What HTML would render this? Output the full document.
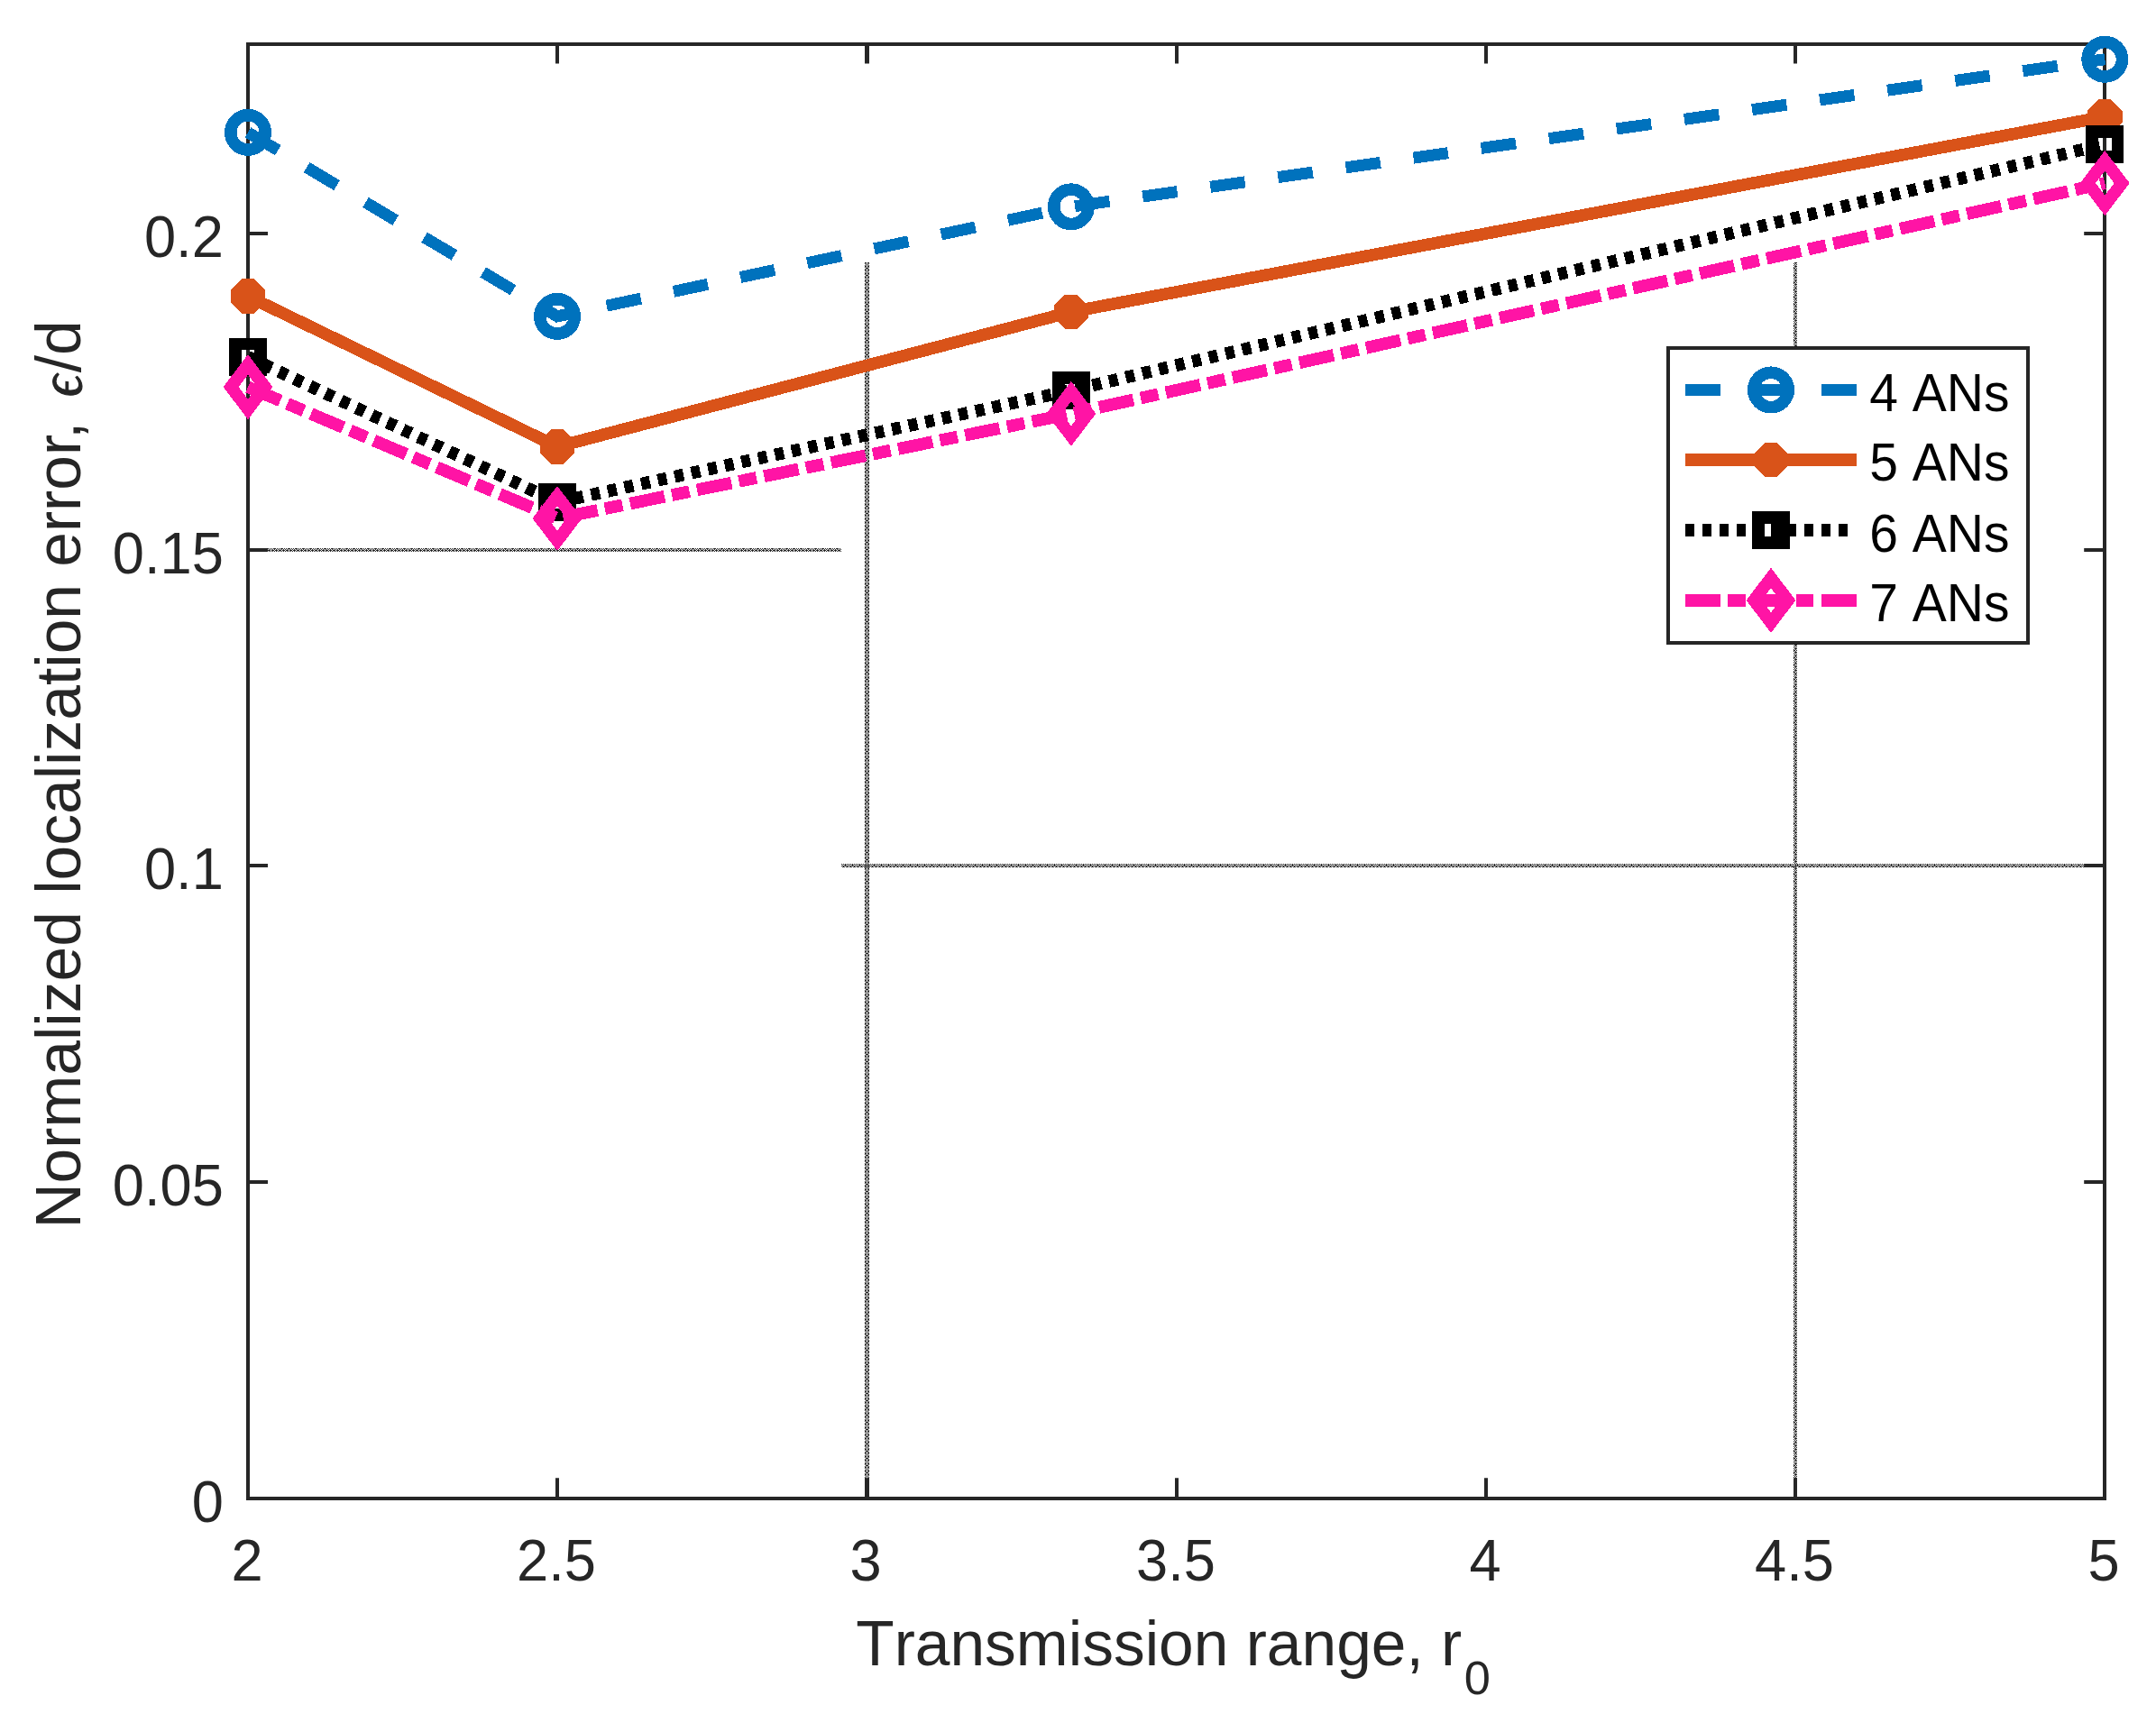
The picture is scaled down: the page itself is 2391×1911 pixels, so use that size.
<!DOCTYPE html>
<html lang="en">
<head>
<meta charset="utf-8">
<title>Normalized localization error vs transmission range</title>
<style>
html,body{margin:0;padding:0;background:#fff;}
body{width:2391px;height:1911px;overflow:hidden;}
svg{display:block;}
text{font-family:"Liberation Sans",sans-serif;font-kerning:none;}
.tk{font-size:63.2px;fill:#262626;}
.lb{font-size:69.5px;fill:#262626;}
.lg{font-size:57px;fill:#000;}
</style>
</head>
<body>
<svg width="2391" height="1911" viewBox="0 0 2391 1911">
<defs>
<pattern id="dv1" x="959" y="291" width="4" height="8" patternUnits="userSpaceOnUse"><g fill="#262626" shape-rendering="crispEdges"><rect x="0" y="0" width="1" height="1"/><rect x="1" y="0" width="1" height="1"/><rect x="3" y="0" width="1" height="1"/><rect x="0" y="1" width="1" height="1"/><rect x="2" y="1" width="1" height="1"/><rect x="1" y="2" width="1" height="1"/><rect x="3" y="2" width="1" height="1"/><rect x="0" y="3" width="1" height="1"/><rect x="2" y="3" width="1" height="1"/><rect x="0" y="4" width="1" height="1"/><rect x="1" y="4" width="1" height="1"/><rect x="3" y="4" width="1" height="1"/><rect x="0" y="5" width="1" height="1"/><rect x="2" y="5" width="1" height="1"/><rect x="1" y="6" width="1" height="1"/><rect x="2" y="6" width="1" height="1"/><rect x="3" y="6" width="1" height="1"/><rect x="0" y="7" width="1" height="1"/><rect x="2" y="7" width="1" height="1"/></g></pattern>
<pattern id="dv2" x="1989" y="291" width="4" height="8" patternUnits="userSpaceOnUse"><g fill="#262626" shape-rendering="crispEdges"><rect x="1" y="0" width="1" height="1"/><rect x="2" y="0" width="1" height="1"/><rect x="3" y="0" width="1" height="1"/><rect x="0" y="1" width="1" height="1"/><rect x="2" y="1" width="1" height="1"/><rect x="1" y="2" width="1" height="1"/><rect x="3" y="2" width="1" height="1"/><rect x="0" y="3" width="1" height="1"/><rect x="2" y="3" width="1" height="1"/><rect x="1" y="4" width="1" height="1"/><rect x="2" y="4" width="1" height="1"/><rect x="3" y="4" width="1" height="1"/><rect x="0" y="5" width="1" height="1"/><rect x="2" y="5" width="1" height="1"/><rect x="0" y="6" width="1" height="1"/><rect x="1" y="6" width="1" height="1"/><rect x="3" y="6" width="1" height="1"/><rect x="0" y="7" width="1" height="1"/><rect x="2" y="7" width="1" height="1"/></g></pattern>
<pattern id="dh1" x="900" y="608" width="8" height="4" patternUnits="userSpaceOnUse"><g fill="#262626" shape-rendering="crispEdges"><rect x="1" y="0" width="1" height="1"/><rect x="3" y="0" width="1" height="1"/><rect x="4" y="0" width="1" height="1"/><rect x="5" y="0" width="1" height="1"/><rect x="7" y="0" width="1" height="1"/><rect x="0" y="1" width="1" height="1"/><rect x="2" y="1" width="1" height="1"/><rect x="4" y="1" width="1" height="1"/><rect x="6" y="1" width="1" height="1"/><rect x="1" y="2" width="1" height="1"/><rect x="2" y="2" width="1" height="1"/><rect x="3" y="2" width="1" height="1"/><rect x="5" y="2" width="1" height="1"/><rect x="6" y="2" width="1" height="1"/><rect x="7" y="2" width="1" height="1"/><rect x="0" y="3" width="1" height="1"/><rect x="2" y="3" width="1" height="1"/><rect x="4" y="3" width="1" height="1"/><rect x="6" y="3" width="1" height="1"/></g></pattern>
<pattern id="dh2" x="1000" y="958" width="8" height="4" patternUnits="userSpaceOnUse"><g fill="#262626" shape-rendering="crispEdges"><rect x="1" y="0" width="1" height="1"/><rect x="3" y="0" width="1" height="1"/><rect x="5" y="0" width="1" height="1"/><rect x="7" y="0" width="1" height="1"/><rect x="0" y="1" width="1" height="1"/><rect x="1" y="1" width="1" height="1"/><rect x="2" y="1" width="1" height="1"/><rect x="4" y="1" width="1" height="1"/><rect x="6" y="1" width="1" height="1"/><rect x="1" y="2" width="1" height="1"/><rect x="3" y="2" width="1" height="1"/><rect x="5" y="2" width="1" height="1"/><rect x="7" y="2" width="1" height="1"/><rect x="0" y="3" width="1" height="1"/><rect x="2" y="3" width="1" height="1"/><rect x="3" y="3" width="1" height="1"/><rect x="4" y="3" width="1" height="1"/><rect x="6" y="3" width="1" height="1"/><rect x="7" y="3" width="1" height="1"/></g></pattern>
</defs>
<rect x="0" y="0" width="2391" height="1911" fill="#ffffff"/>
<g id="grid" shape-rendering="crispEdges">
<rect x="277" y="608" width="656" height="4" fill="url(#dh1)"/>
<rect x="933" y="958" width="1399" height="4" fill="url(#dh2)"/>
<rect x="959" y="291" width="5" height="1369" fill="url(#dv1)"/>
<rect x="1989" y="291" width="4" height="1369" fill="url(#dv2)"/>
</g>
<g id="axes" stroke="#262626" stroke-width="4" fill="none" stroke-linecap="butt">
<rect x="275" y="49" width="2059" height="1613"/>
<path d="M618 1662V1639.2M618 49V70.5M1305 1662V1639.2M1305 49V70.5M1648 1662V1639.2M1648 49V70.5M1991 1662V1639.2M1991 49V70.5M275 1311H297M2334 1311H2311.2M275 960H297M2334 960H2311.2M275 610H297M2334 610H2311.2M275 259H297M2334 259H2311.2"/>
<path stroke-width="5" d="M961.5 1662V1639.2M961.5 49V70.5"/>
</g>
<g id="xticks" class="tk" text-anchor="middle">
<text transform="translate(274 1752.5) scale(1 1.04)">2</text>
<text transform="translate(617 1752.5) scale(1 1.04)">2.5</text>
<text transform="translate(960 1752.5) scale(1 1.04)">3</text>
<text transform="translate(1304 1752.5) scale(1 1.04)">3.5</text>
<text transform="translate(1647 1752.5) scale(1 1.04)">4</text>
<text transform="translate(1990 1752.5) scale(1 1.04)">4.5</text>
<text transform="translate(2333 1752.5) scale(1 1.04)">5</text>
</g>
<g id="yticks" class="tk" text-anchor="end">
<text transform="translate(247.8 1688.3) scale(1 1.04)">0</text>
<text transform="translate(247.8 1337.3) scale(1 1.04)">0.05</text>
<text transform="translate(247.8 986.3) scale(1 1.04)">0.1</text>
<text transform="translate(247.8 636.3) scale(1 1.04)">0.15</text>
<text transform="translate(247.8 285.3) scale(1 1.04)">0.2</text>
</g>
<text class="lb" x="949.2" y="1847">Transmission range, r<tspan font-size="52.4" dx="2.4" dy="32">0</tspan></text>
<g transform="translate(89 1362.6) rotate(-90)">
<text class="lb" x="0" y="0">Normalized localization error<tspan dx="-5">,</tspan></text>
<text class="lb" transform="translate(922.6 1.2) scale(0.9 1)" font-family="'Liberation Serif',serif" font-style="italic" font-size="66.8" style="font-family:'Liberation Serif',serif;font-size:66.8px;stroke:#262626;stroke-width:1.1px">ϵ</text>
<text class="lb" x="949.3" y="0">/d</text>
</g>
<g id="data" fill="none" stroke-linejoin="miter" stroke-linecap="butt" shape-rendering="crispEdges">
<polyline points="275,146.9 618,350.9 1187.9,229.3 2334.3,65.8" stroke="#0072BD" stroke-width="13.0" stroke-dasharray="38.8 37.05"/>
<circle cx="275" cy="146.9" r="19.2" fill="none" stroke="#0072BD" stroke-width="13.6"/>
<circle cx="618" cy="350.9" r="19.2" fill="none" stroke="#0072BD" stroke-width="13.6"/>
<circle cx="1187.9" cy="229.3" r="19.2" fill="none" stroke="#0072BD" stroke-width="13.6"/>
<circle cx="2334.3" cy="65.8" r="19.2" fill="none" stroke="#0072BD" stroke-width="13.6"/>
<polyline points="275,328.6 618,495.5 1187.9,345.9 2334.3,129.4" stroke="#D95319" stroke-width="13.6"/>
<polygon points="281.6,309.4 294.2,322 294.2,335.2 281.6,347.8 268.4,347.8 255.8,335.2 255.8,322 268.4,309.4" fill="#D95319"/>
<polygon points="624.6,476.3 637.2,488.9 637.2,502.1 624.6,514.7 611.4,514.7 598.8,502.1 598.8,488.9 611.4,476.3" fill="#D95319"/>
<polygon points="1194.5,326.7 1207.1,339.3 1207.1,352.5 1194.5,365.1 1181.3,365.1 1168.7,352.5 1168.7,339.3 1181.3,326.7" fill="#D95319"/>
<polygon points="2340.9,110.2 2353.5,122.8 2353.5,136 2340.9,148.6 2327.7,148.6 2315.1,136 2315.1,122.8 2327.7,110.2" fill="#D95319"/>
<polyline points="275,395.8 618,557 1187.9,433 2334.3,160" stroke="#000000" stroke-width="13.8" stroke-dasharray="10.05 8.92"/>
<rect x="260.85" y="381.65" width="28.3" height="28.3" fill="none" stroke="#000000" stroke-width="13.6"/>
<rect x="603.85" y="542.85" width="28.3" height="28.3" fill="none" stroke="#000000" stroke-width="13.6"/>
<rect x="1173.75" y="418.85" width="28.3" height="28.3" fill="none" stroke="#000000" stroke-width="13.6"/>
<rect x="2320.15" y="145.85" width="28.3" height="28.3" fill="none" stroke="#000000" stroke-width="13.6"/>
<polyline points="275,429.2 618,575 1187.9,458.8 2334.3,203.1" stroke="#FF14A5" stroke-width="13.7" stroke-dasharray="39 8.35 19.9 8.6"/>
<polygon points="275,404.4 293.9,429.2 275,454 256.1,429.2" fill="none" stroke="#FF14A5" stroke-width="13.6" stroke-miterlimit="10"/>
<polygon points="618,550.2 636.9,575 618,599.8 599.1,575" fill="none" stroke="#FF14A5" stroke-width="13.6" stroke-miterlimit="10"/>
<polygon points="1187.9,434 1206.8,458.8 1187.9,483.6 1169,458.8" fill="none" stroke="#FF14A5" stroke-width="13.6" stroke-miterlimit="10"/>
<polygon points="2334.3,178.3 2353.2,203.1 2334.3,227.9 2315.4,203.1" fill="none" stroke="#FF14A5" stroke-width="13.6" stroke-miterlimit="10"/>
</g>
<g id="legend" shape-rendering="crispEdges">
<rect x="1850" y="386" width="399" height="326.7" fill="#fff" stroke="#262626" stroke-width="4"/>
<line x1="1869" y1="432.4" x2="2059" y2="432.4" stroke="#0072BD" stroke-width="13.0" stroke-dasharray="38.6 36.9"/>
<circle cx="1964" cy="432.4" r="19.2" fill="none" stroke="#0072BD" stroke-width="13.6"/>
<text class="lg" transform="translate(2073.2 455.9) scale(1 1.04)">4 ANs</text>
<line x1="1869" y1="509.9" x2="2059" y2="509.9" stroke="#D95319" stroke-width="13.6"/>
<polygon points="1970.6,490.7 1983.2,503.3 1983.2,516.5 1970.6,529.1 1957.4,529.1 1944.8,516.5 1944.8,503.3 1957.4,490.7" fill="#D95319"/>
<text class="lg" transform="translate(2073.2 533.4) scale(1 1.04)">5 ANs</text>
<line x1="1869" y1="588" x2="2057" y2="588" stroke="#000000" stroke-width="13.8" stroke-dasharray="10 8.9"/>
<rect x="1949.85" y="573.85" width="28.3" height="28.3" fill="none" stroke="#000000" stroke-width="13.6"/>
<text class="lg" transform="translate(2073.2 611.5) scale(1 1.04)">6 ANs</text>
<line x1="1869" y1="665.8" x2="2059" y2="665.8" stroke="#FF14A5" stroke-width="13.7" stroke-dasharray="38.8 8.3 19.8 8.6"/>
<polygon points="1964,641 1982.9,665.8 1964,690.6 1945.1,665.8" fill="none" stroke="#FF14A5" stroke-width="13.6" stroke-miterlimit="10"/>
<text class="lg" transform="translate(2073.2 689.3) scale(1 1.04)">7 ANs</text>
</g>
</svg>
</body>
</html>
